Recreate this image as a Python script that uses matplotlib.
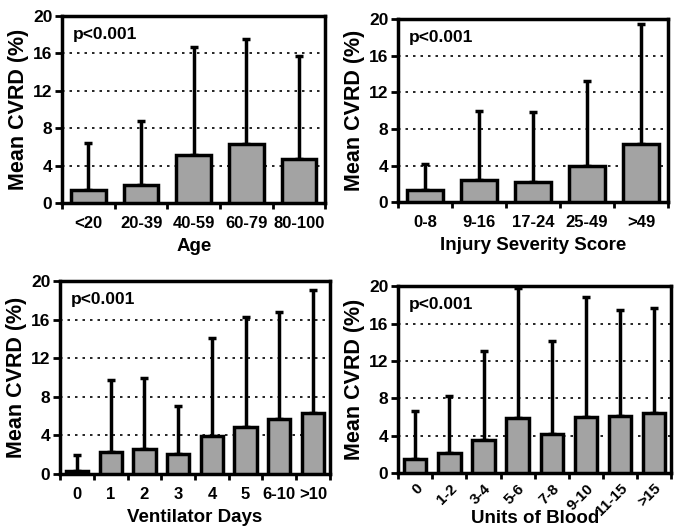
import matplotlib.pyplot as plt
import matplotlib.transforms as mtransforms
import numpy as np

plt.rcParams['font.family'] = ['Liberation Sans', 'DejaVu Sans']
plt.rcParams['font.weight'] = 'bold'

# Age
age_cats = ['<20', '20-39', '40-59', '60-79', '80-100']
age_mean = [1.4, 2.0, 5.1, 6.3, 4.7]
age_top = [6.4, 8.8, 16.7, 17.5, 15.7]

# Injury Severity Score
iss_cats = ['0-8', '9-16', '17-24', '25-49', '>49']
iss_mean = [1.3, 2.4, 2.2, 3.9, 6.4]
iss_top = [4.2, 10.0, 9.9, 13.2, 19.5]

# Ventilator Days
vent_cats = ['0', '1', '2', '3', '4', '5', '6-10', '>10']
vent_mean = [0.3, 2.3, 2.6, 2.1, 3.9, 4.9, 5.7, 6.3]
vent_top = [2.0, 9.7, 10.0, 7.1, 14.1, 16.3, 16.8, 19.1]

# Units of Blood
blood_cats = ['0', '1-2', '3-4', '5-6', '7-8', '9-10', '11-15', '>15']
blood_mean = [1.5, 2.1, 3.5, 5.9, 4.2, 6.0, 6.1, 6.4]
blood_top = [6.6, 8.3, 13.1, 19.8, 14.1, 18.8, 17.4, 17.7]

fig = plt.figure(figsize=(6.76, 5.28), dpi=100)

panels = [
    ([0.092, 0.615, 0.389, 0.355], age_cats, age_mean, age_top, 'Age', 0),
    ([0.589, 0.617, 0.399, 0.347], iss_cats, iss_mean, iss_top, 'Injury Severity Score', 0),
    ([0.089, 0.102, 0.399, 0.366], vent_cats, vent_mean, vent_top, 'Ventilator Days', 0),
    ([0.589, 0.104, 0.404, 0.354], blood_cats, blood_mean, blood_top, 'Units of Blood', 45),
]

for rect, cats, means, tops, xlabel, rot in panels:
    ax = fig.add_axes(rect)
    x = np.arange(len(cats))
    means = np.array(means)
    tops = np.array(tops)
    ax.bar(x, means, width=0.66, color='#a3a3a3', edgecolor='black', linewidth=2.5, zorder=3)
    ax.errorbar(x, means, yerr=[np.zeros_like(means), tops - means], fmt='none',
                ecolor='black', elinewidth=2.5, capsize=3, capthick=2.5, zorder=2)
    ax.set_xlim(-0.5, len(cats) - 0.5)
    ax.set_ylim(0, 20)
    ax.set_yticks([0, 4, 8, 12, 16, 20])
    for g in [4, 8, 12, 16]:
        ax.axhline(g, color='black', linestyle=(0, (1.5, 3)), linewidth=1.2, zorder=1)
    ax.set_xticks(np.arange(-0.5, len(cats), 1.0))
    ax.set_xticklabels([])
    ax.set_xticks(x, minor=True)
    if rot:
        # rotated labels for the blood panel
        ax.set_xticklabels(cats, minor=True, rotation=rot, ha='right', rotation_mode='anchor',
                           fontsize=11, fontweight='bold')
        off = mtransforms.ScaledTranslation(6 / 72, 0, fig.dpi_scale_trans)
        for lbl in ax.get_xticklabels(minor=True):
            lbl.set_transform(lbl.get_transform() + off)
        ax.tick_params(axis='x', which='minor', length=0, pad=6)
    else:
        ax.set_xticklabels(cats, minor=True, fontsize=12, fontweight='bold')
        ax.tick_params(axis='x', which='minor', length=0, pad=9)
    ax.tick_params(axis='x', which='major', length=4, width=2, direction='out')
    ax.tick_params(axis='y', length=5, width=2, direction='out', labelsize=12.5, pad=2)
    for lbl in ax.get_yticklabels():
        lbl.set_fontweight('bold')
    for sp in ax.spines.values():
        sp.set_linewidth(2.5)
    ax.set_ylabel('Mean CVRD (%)', fontsize=15.5, fontweight='bold', labelpad=3)
    ax.set_xlabel(xlabel, fontsize=13.5, fontweight='bold', labelpad=5)
    if rot:
        ax.xaxis.set_label_coords(0.5, -0.2)
    ax.text(0.04, 0.94, 'p<0.001', transform=ax.transAxes, fontsize=12.5,
            fontweight='bold', va='top', ha='left')

fig.savefig('out.png', dpi=100)
